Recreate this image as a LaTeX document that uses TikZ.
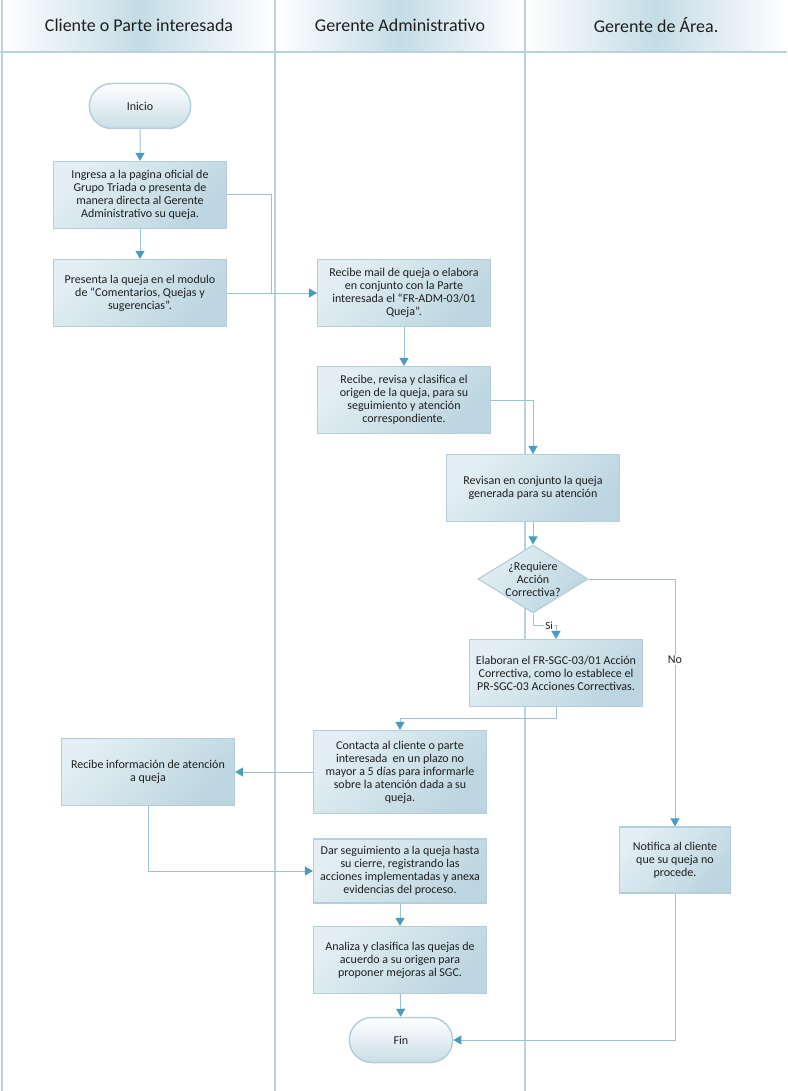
\documentclass[tikz,border=0pt]{standalone}
\usepackage{fontspec}
\setmainfont{Carlito}
\usetikzlibrary{arrows.meta,shapes.geometric,shapes.misc}

\definecolor{lanecol}{HTML}{B9D3DD}
\definecolor{linecol}{HTML}{9DC3D2}
\definecolor{tipcol}{HTML}{4A9BBE}
\definecolor{boxtop}{HTML}{E3EFF4}
\definecolor{boxbot}{HTML}{BCD5E0}
\definecolor{boxedge}{HTML}{B5CFDA}
\definecolor{headblue}{HTML}{C4DCE6}
\definecolor{txt}{HTML}{1E1E1E}

\begin{document}
\begin{tikzpicture}[x=1pt, y=-1pt,
    proc/.style={draw=boxedge, line width=1.2pt, top color=boxtop, bottom color=boxbot,
        shading angle=45, minimum width=173pt, minimum height=67pt, align=center,
        text=txt, font=\fontsize{12}{13}\selectfont, inner sep=2pt},
    term/.style={rounded rectangle, draw=boxedge, line width=1.5pt, top color=white,
        bottom color=boxbot!80, minimum width=108pt, minimum height=45pt, text=txt,
        font=\fontsize{12}{13}\selectfont},
    lane/.style={draw=lanecol, line width=1.5pt},
    conn/.style={draw=linecol, line width=1pt},
    arr/.style={conn, -{Triangle[width=9pt,length=8pt,color=tipcol]}},
    headtxt/.style={text=txt, font=\fontsize{18}{20}\selectfont},
    tag/.style={fill=white, inner sep=1pt, text=txt, font=\fontsize{12}{13}\selectfont}]

    \useasboundingbox (0,0) rectangle (787,1091);

    % HEADER: lanes
    \foreach \xa/\xb in {2/275, 275/525, 525/787} {
        \shade[left color=white, right color=white, middle color=headblue] (\xa,0) rectangle (\xb,52);
    }
    \foreach \x in {2, 275, 525} {
        \draw[lane] (\x,0) -- (\x,1091);
    }
    \draw[lane] (0,52) -- (787,52);
    \node[headtxt] (h1) at (139,25) {Cliente o Parte interesada};
    \node[headtxt] (h2) at (400,25) {Gerente Administrativo};
    \node[headtxt] (h3) at (656,25) {Gerente de Área.};

    % CLIENTE
    \node[term] (ini) at (140,106) {Inicio};
    \node[proc] (b1) at (140,195) {Ingresa a la pagina oficial de\\Grupo Triada o presenta de\\manera directa al Gerente\\Administrativo su queja.};
    \node[proc] (b2) at (140,293) {Presenta la queja en el modulo\\de “Comentarios, Quejas y\\sugerencias”.};
    \node[proc] (b8) at (148,772) {Recibe información de atención\\a queja};

    % GERENTE ADMINISTRATIVO
    \node[proc] (b3) at (404,293) {Recibe mail de queja o elabora\\en conjunto con la Parte\\interesada el “FR-ADM-03/01\\Queja”.};
    \node[proc] (b4) at (404,400) {Recibe, revisa y clasifica el\\origen de la queja, para su\\seguimiento y atención\\correspondiente.};
    \node[proc, minimum height=83pt] (b7) at (400,772) {Contacta al cliente o parte\\interesada\ \ en un plazo no\\mayor a 5 días para informarle\\sobre la atención dada a su\\queja.};
    \node[proc, minimum height=64pt] (b9) at (400,871) {Dar seguimiento a la queja hasta\\su cierre, registrando las\\acciones implementadas y anexa\\evidencias del proceso.};
    \node[proc] (b10) at (400,960) {Analiza y clasifica las quejas de\\acuerdo a su origen para\\proponer mejoras al SGC.};
    \node[term, minimum width=110pt] (fin) at (401,1040) {Fin};

    % GERENTE DE AREA (shared boxes)
    \node[proc] (b5) at (533,488) {Revisan en conjunto la queja\\generada para su atención};
    \node[diamond, draw=boxedge, line width=1.2pt, top color=boxtop, bottom color=boxbot,
        shading angle=45, minimum width=110pt, minimum height=68pt, inner sep=0pt] (dec) at (533,579) {};
    \node[align=center, text=txt, font=\fontsize{12}{13}\selectfont] (dectxt) at (533,579) {¿Requiere\\Acción\\Correctiva?};
    \node[proc] (b6) at (556,673) {Elaboran el FR-SGC-03/01 Acción\\Correctiva, como lo establece el\\PR-SGC-03 Acciones Correctivas.};
    \node[proc, minimum width=111pt, minimum height=66pt] (b11) at (675,860) {Notifica al cliente\\que su queja no\\procede.};

    % CONNECTORS
    \draw[arr] (ini) -- (b1);
    \draw[arr] (b1) -- (b2);
    \draw[conn] (b1.east) -- ++(44,0) |- (b3.west);
    \draw[arr] (b2.east) -- (b3.west);
    \draw[arr] (b3) -- (b4);
    \draw[arr] (b4.east) -| (b5.north);
    \draw[arr] (b5) -- (dec);
    \draw[arr] (dec.south) -- ++(0,12) -| node[pos=0.35, tag, font=\fontsize{11}{12}\selectfont] {Si} (b6.north);
    \draw[arr] (dec.east) -| node[pos=0.663, tag] {No} (b11.north);
    \draw[arr] (b6.south) -- ++(0,11) -| (b7.north);
    \draw[arr] (b7.west) -- (b8.east);
    \draw[arr] (b8.south) |- (b9.west);
    \draw[arr] (b9) -- (b10);
    \draw[arr] (b10) -- (fin);
    \draw[arr] (b11.south) |- (fin.east);

\end{tikzpicture}
\end{document}
